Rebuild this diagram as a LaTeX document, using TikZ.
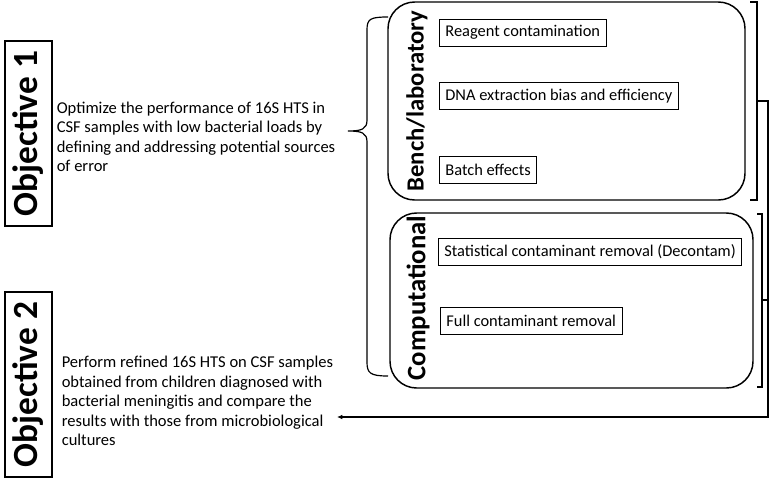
\documentclass[tikz,border=0pt]{standalone}
\usepackage{fontspec}
\setmainfont{Carlito}
\usepackage{tikz}
\usetikzlibrary{arrows.meta,calc}

\begin{document}
\begin{tikzpicture}[x=0.75pt, y=-0.75pt, line width=0.40mm,
    objbox/.style={draw, line width=1.2pt, rotate=90, minimum width=185*0.75pt,
      minimum height=47*0.75pt, inner sep=0pt, font=\bfseries\fontsize{26.5}{30}\selectfont},
    aimtext/.style={anchor=west, align=left, inner sep=0pt,
      font=\fontsize{12.4}{14.6}\selectfont},
    groupbox/.style={draw, line width=1.1pt, rounded corners=20pt, inner sep=0pt},
    grouplabel/.style={rotate=90, inner sep=0pt, font=\bfseries\fontsize{18.5}{20}\selectfont},
    itembox/.style={draw, line width=0.6pt, anchor=west, minimum height=27*0.75pt,
      inner xsep=4.5pt, inner ysep=0pt, font=\fontsize{12.3}{14}\selectfont}]
  \useasboundingbox (0,0) rectangle (771,479);
  % Objectives (rotated titles) and their aims
  \node[objbox] (obj1) at (28.5,133.5) {Objective 1};
  \node[objbox] (obj2) at (28.5,384.5) {Objective 2};
  \node[aimtext] (aim1) at (56,137) {Optimize the performance of 16S HTS in\\
    CSF samples with low bacterial loads by\\
    defining and addressing potential sources\\
    of error};
  \node[aimtext] (aim2) at (61,401) {Perform refined 16S HTS on CSF samples\\
    obtained from children diagnosed with\\
    bacterial meningitis and compare the\\
    results with those from microbiological\\
    cultures};
  % Curly brace from aim 1 to both groups
  \draw[line width=0.9pt] (388,17) .. controls (370,17) and (367,19) .. (367,30) -- (367,120)
    .. controls (367,129) and (362,131) .. (348,131)
    .. controls (362,131) and (367,133) .. (367,142) -- (367,362)
    .. controls (367,373) and (370,376) .. (388,376);
  % Bench group
  \node[groupbox, minimum width=357*0.75pt, minimum height=198*0.75pt] (bench) at (566.5,101) {};
  \node[grouplabel] (benchlab) at (417,101) {Bench/laboratory};
  \node[itembox] (reagent) at (439,32.5) {Reagent contamination};
  \node[itembox] (dna) at (439,96) {DNA extraction bias and efficiency};
  \node[itembox] (batch) at (439,170) {Batch effects};
  % Computational group
  \node[groupbox, minimum width=363*0.75pt, minimum height=175*0.75pt] (comp) at (571.5,300.5) {};
  \node[grouplabel, font=\bfseries\fontsize{20}{22}\selectfont] (complab) at (418,298) {Computational};
  \node[itembox] (decontam) at (438,251.5) {Statistical contaminant removal (Decontam)};
  \node[itembox] (full) at (440,321) {Full contaminant removal};
  % Square brackets and feedback arrow to objective 2
  \draw[line width=0.9pt] (750,2) -- (757,2) -- (757,200) -- (750,200);
  \draw[line width=0.9pt] (757,214) -- (762,214) -- (762,387) -- (757,387);
  \coordinate (benchmid) at (757,101);
  \coordinate (compmid) at (762,300);
  \coordinate (turn) at (768,417);
  \coordinate (tip) at (337,417);
  \draw[line width=0.9pt] (compmid) -- (compmid -| turn);
  \draw[line width=0.9pt, -{Latex[length=4pt,width=3.5pt]}] (benchmid) -- (benchmid -| turn) -- (turn) -- (tip);
\end{tikzpicture}
\end{document}
